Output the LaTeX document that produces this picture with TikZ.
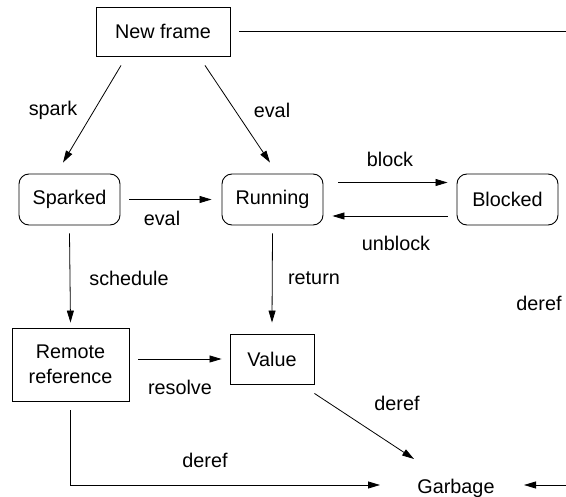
\documentclass[tikz,border=0pt]{standalone}
\usepackage{fontspec}
\setmainfont{Liberation Sans}
\usetikzlibrary{arrows.meta}
\begin{document}
\begin{tikzpicture}[x=1pt,y=-1pt,
  every node/.style={font=\fontsize{19.8}{25}\selectfont},
  sqbox/.style={draw,line width=0.9pt,inner sep=0pt},
  rbox/.style={draw,line width=0.9pt,rounded corners=10pt,minimum width=101pt,minimum height=51pt,inner sep=0pt},
  lbl/.style={inner sep=0pt},
  arr/.style={line width=0.8pt,-{Triangle[length=12pt,width=7pt]}},
  ln/.style={line width=0.8pt}]
\useasboundingbox (0,0) rectangle (566,497);
% states
\node[sqbox,minimum width=134pt,minimum height=49pt] (nf) at (163,31.5) {New frame};
\node[rbox] (sp) at (69.5,199.5) {Sparked};
\node[rbox] (run) at (272.5,199.5) {Running};
\node[rbox] (blk) at (507.5,199.5) {Blocked};
\node[sqbox,minimum width=117pt,minimum height=73pt,align=center] (rem) at (70.5,364.5) {Remote\\reference};
\node[sqbox,minimum width=84pt,minimum height=50pt] (val) at (272,359) {Value};
\node[lbl] (gar) at (456,488) {Garbage};
\coordinate (nfend) at (566,31.5);
\coordinate (garin) at (566,485);
% connectors
\draw[ln] ([xshift=9pt]nf.east) -- (nfend);
\draw[arr] ([xshift=-42pt,yshift=-9pt]nf.south) -- ([xshift=-6.5pt,yshift=11pt]sp.north);
\draw[arr] ([xshift=42pt,yshift=-9pt]nf.south) -- ([xshift=-2.5pt,yshift=11pt]run.north);
\draw[arr] ([xshift=9pt]sp.east) -- ([xshift=-10pt]run.west);
\draw[arr] ([xshift=15pt,yshift=17pt]run.east) -- ([xshift=-9pt,yshift=17pt]blk.west);
\draw[arr] ([xshift=-9pt,yshift=-16.5pt]blk.west) -- ([xshift=9pt,yshift=-16.5pt]run.east);
\draw[arr] ([yshift=-8pt]sp.south) -- ([yshift=5pt]rem.north);
\draw[arr] ([yshift=-8pt]run.south) -- ([yshift=11pt]val.north);
\draw[arr] ([xshift=9pt,yshift=5.5pt]rem.east) -- ([xshift=-8pt]val.west);
\draw[arr] ([yshift=-9pt]val.south east) -- ([xshift=-42pt,yshift=29pt]gar.center);
\draw[arr] ([yshift=-9pt]rem.south) |- ([xshift=-76pt,yshift=3pt]gar.center);
\draw[arr] (garin) -- ([xshift=68pt,yshift=3pt]gar.center);
% labels
\node[lbl] (lspark) at (53,110) {spark};
\node[lbl] (leval1) at (272,110) {eval};
\node[lbl] (leval2) at (162,218) {eval};
\node[lbl] (lblock) at (390,159) {block};
\node[lbl] (lunblock) at (396,243) {unblock};
\node[lbl] (lsched) at (129,278) {schedule};
\node[lbl] (lret) at (314,278) {return};
\node[lbl] (lderef1) at (539,303) {deref};
\node[lbl] (lresolve) at (180,387) {resolve};
\node[lbl] (lderef2) at (397,403) {deref};
\node[lbl] (lderef3) at (205,460) {deref};
\end{tikzpicture}
\end{document}
